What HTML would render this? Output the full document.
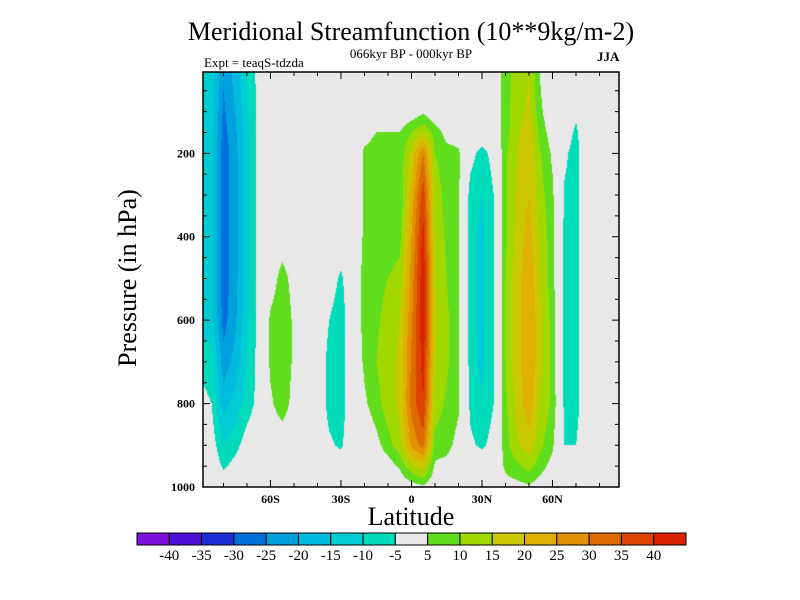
<!DOCTYPE html>
<html><head><meta charset="utf-8"><style>
body{margin:0;background:#fff;width:800px;height:600px;overflow:hidden;position:relative;font-family:"Liberation Serif",serif}
.t{position:absolute;white-space:nowrap;color:#000}
</style></head><body>
<div class="t" style="left:0;width:822px;text-align:center;top:17px;font-size:26px">Meridional Streamfunction (10**9kg/m-2)</div>
<div class="t" style="left:0;width:822px;text-align:center;top:46px;font-size:13px">066kyr BP - 000kyr BP</div>
<div class="t" style="left:204px;top:55px;font-size:13px">Expt = teaqS-tdzda</div>
<div class="t" style="left:597px;top:49px;font-size:13px;font-weight:bold">JJA</div>
<div class="t" style="left:128px;top:278px;font-size:26px;transform:translate(-50%,-50%) rotate(-90deg)">Pressure (in hPa)</div>
<div class="t" style="left:0;width:822px;text-align:center;top:502px;font-size:26px">Latitude</div>
<canvas id="cv" width="800" height="600" style="position:absolute;left:0;top:0"></canvas>
<svg id="sv" width="800" height="600" style="position:absolute;left:0;top:0"></svg>
<script>
const lats=[-90,-85,-80,-75,-70,-65,-60,-55,-50,-45,-40,-35,-30,-25,-20,-15,-10,-5,0,5,10,15,20,25,30,35,40,45,50,55,60,65,70,75,80,85,90];
const pressures=[0,100,150,200,300,400,500,600,700,800,900,950,1000];
const values=[
[-12,-12,-13,-13,-14,-14,-14,-13,-6,-3,0,0,0],
[-12,-12,-13,-13,-14,-14,-14,-13,-8,-5,-2,0,0],
[-24,-26,-27,-28,-28,-28,-28,-27,-23,-17,-10,-6,0],
[-18,-20,-21,-22,-22,-22,-22,-21,-18,-13,-7,-3,0],
[-10,-11,-12,-12,-12,-12,-12,-11,-10,-8,-2,0,0],
[-3,-3,-3,-3,-3,-3,-3,-3,-3,-3,0,0,0],
[0,0,0,0,0,0,2,6,6,4,0,0,0],
[0,0,0,0,0,2,7,9,9,8,1,0,0],
[0,0,0,0,0,0,3,4,4,3,0,0,0],
[0,0,0,0,0,0,0,0,0,0,0,0,0],
[0,0,0,0,0,0,0,0,0,0,0,0,0],
[0,0,0,0,0,0,-2,-5,-7,-7,-4,0,0],
[0,0,0,0,0,-1,-6,-8,-8,-8,-6,-1,0],
[0,0,0,0,0,0,0,0,0,0,0,0,0],
[0,0,3,6,6,6,7,7,6,4,0,0,0],
[0,0,5,7,7,7,8,9,10,8,3,0,0],
[0,0,5,7,6,7,10,12,13,13,8,2,0],
[0,0,5,7,5,8,12,15,16,16,13,6,0],
[0,1,10,16,22,25,27,29,31,32,26,14,2],
[0,4,14,30,38,42,44,44,42,40,32,18,4],
[0,0,8,10,13,14,15,16,15,13,8,4,0],
[0,0,3,7,8,9,10,11,11,9,7,3,0],
[0,0,2,6,6,6,6,6,6,6,3,0,0],
[0,0,0,-3,-7,-8,-8,-8,-7,-6,-4,0,0],
[0,0,-1,-7,-10,-12,-12,-12,-12,-9,-6,-1,0],
[0,0,0,-3,-5,-5,-5,-5,-5,-5,-3,0,0],
[8,8,8,9,9,9,10,10,10,9,8,6,3],
[12,13,14,15,16,17,18,18,18,17,14,9,3],
[15,16,18,19,20,22,24,25,25,23,18,12,4],
[4,6,8,10,12,14,15,16,16,14,11,7,2],
[0,0,2,4,6,7,7,8,8,9,6,3,0],
[0,0,-2,-4,-5.5,-6,-6,-6,-6,-6,-5,0,0],
[0,-4,-6,-7,-7,-7,-7,-7,-7,-7,-5,0,0],
[0,0,0,0,0,0,0,0,0,0,0,0,0],
[0,0,0,0,0,0,0,0,0,0,0,0,0],
[0,0,0,0,0,0,0,0,0,0,0,0,0],
[0,0,0,0,0,0,0,0,0,0,0,0,0]];
const levels=[-40,-35,-30,-25,-20,-15,-10,-5,5,10,15,20,25,30,35,40];
const levelLabels=["-40","-35","-30","-25","-20","-15","-10","-5","5","10","15","20","25","30","35","40"];
const colors=["#7f10dd","#4c10d8","#1c30d8","#0070dd","#00a0dd","#00bbdd","#00ccd5","#00dcbb","#e8e8e8","#60dd1c","#a0d800","#ccc800","#e0b000","#e09000","#dd6c00","#dd4400","#dd2200"];
const xTicks=[-60,-30,0,30,60];
const xTickLabels=["60S","30S","0","30N","60N"];
const yTicks=[200,400,600,800,1000];

const L=203,R=619,T=72,B=487,latMin=-88.7,latMax=88.3,pMin=5,pMax=1000;
const xS=la=>L+(la-latMin)/(latMax-latMin)*(R-L);
const yS=p=>T+(p-pMin)/(pMax-pMin)*(B-T);
const latOf=x=>latMin+(x-L)/(R-L)*(latMax-latMin);
const pOf=y=>pMin+(y-T)/(B-T)*(pMax-pMin);
function idx(arr,v){let i=0;while(i<arr.length-2&&arr[i+1]<=v)i++;return i;}
function val(la,p){const i=idx(lats,la),j=idx(pressures,p);
 const fx=Math.min(1,Math.max(0,(la-lats[i])/(lats[i+1]-lats[i])));
 const fy=Math.min(1,Math.max(0,(p-pressures[j])/(pressures[j+1]-pressures[j])));
 const a=values[i][j],b=values[i+1][j],c=values[i][j+1],d=values[i+1][j+1];
 return (a*(1-fx)+b*fx)*(1-fy)+(c*(1-fx)+d*fx)*fy;}
function colorOf(v){let k=0;while(k<levels.length&&levels[k]<=v)k++;return colors[k];}
const ctx=document.getElementById('cv').getContext('2d');
for(let y=T;y<B;y++)for(let x=L;x<R;x++){ctx.fillStyle=colorOf(val(latOf(x+0.5),pOf(y+0.5)));ctx.fillRect(x,y,1,1);}

const sv=document.getElementById('sv');const NS="http://www.w3.org/2000/svg";
function mk(tag,at,txt){const e=document.createElementNS(NS,tag);for(const k in at)e.setAttribute(k,at[k]);if(txt!==undefined)e.textContent=txt;sv.appendChild(e);return e;}
let e=mk('rect',{x:L,y:T,width:R-L,height:B-T,fill:'none',stroke:'#000','stroke-width':1.5});


for(let la=-80;la<=80;la+=10){const x=xS(la),maj=la%30===0,len=maj?7:4;
 e=mk('path',{d:`M${x},${B}v${-len}M${x},${T}v${len}`,stroke:'#000','stroke-width':1});
 
 }
xTicks.forEach((la,i)=>{e=mk('text',{x:xS(la),y:B+16,'text-anchor':'middle','font-size':12,'font-weight':'bold','font-family':'Liberation Serif, serif'},xTickLabels[i]);
 
 });
for(let p=50;p<=1000;p+=50){const y=yS(p),maj=p%200===0,len=maj?7:4;
 e=mk('path',{d:`M${L},${y}h${len}M${R},${y}h${-len}`,stroke:'#000','stroke-width':1});
 
 }
yTicks.forEach(p=>{e=mk('text',{x:L-8,y:yS(p)+4,'text-anchor':'end','font-size':12,'font-weight':'bold','font-family':'Liberation Serif, serif'},String(p));
 
 });
const cbL=137,cbR=686,cbT=533,cbB=545,bw=(cbR-cbL)/colors.length;
colors.forEach((c,i)=>{e=mk('rect',{x:cbL+i*bw,y:cbT,width:bw,height:cbB-cbT,fill:c,stroke:'#000','stroke-width':1});
 
 });
levelLabels.forEach((t,i)=>{e=mk('text',{x:cbL+(i+1)*bw,y:cbB+15,'text-anchor':'middle','font-size':15,'font-family':'Liberation Serif, serif'},t);
 
 });
</script>
</body></html>
